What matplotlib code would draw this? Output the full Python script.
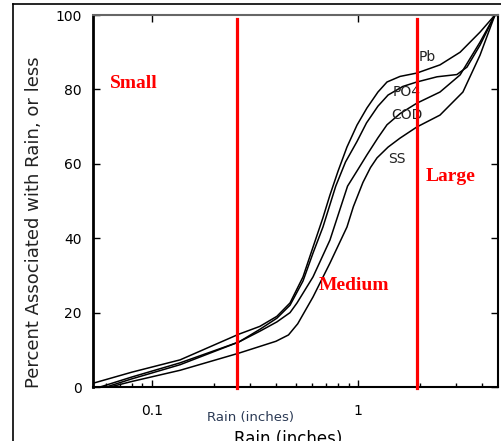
import matplotlib
matplotlib.use("Agg")
import matplotlib.pyplot as plt
from matplotlib.lines import Line2D
from matplotlib.ticker import LogLocator, NullFormatter, FixedLocator, FixedFormatter

# values (rain in inches, percent associated)
pb_rain = [0.0517, 0.08, 0.137, 0.264, 0.334, 0.404, 0.468, 0.541, 0.605, 0.676,
           0.73, 0.80, 0.884, 0.989, 1.105, 1.25, 1.383, 1.6, 1.93, 2.50, 3.13, 3.91, 4.62]
pb_pct = [1.0, 4.0, 7.3, 14.2, 16.3, 19.0, 22.6, 29.6, 37.6, 45.5,
          51.5, 58.0, 64.5, 70.4, 75.0, 79.3, 82.0, 83.5, 84.4, 86.6, 90.0, 95.4, 100.0]

po4_rain = [0.056, 0.08, 0.137, 0.264, 0.334, 0.404, 0.468, 0.541, 0.605, 0.676,
            0.78, 0.87, 0.989, 1.1, 1.25, 1.4, 1.65, 1.93, 2.42, 3.02, 3.38, 3.91, 4.62]
po4_pct = [0.0, 2.7, 6.5, 12.1, 15.5, 18.5, 22.0, 28.5, 36.0, 43.0,
           54.0, 60.5, 66.0, 71.0, 75.5, 78.5, 80.8, 82.0, 83.4, 84.0, 86.0, 91.9, 100.0]

cod_rain = [0.06, 0.08, 0.137, 0.264, 0.334, 0.404, 0.468, 0.506, 0.605, 0.731,
            0.89, 1.0, 1.105, 1.25, 1.383, 1.6, 1.93, 2.50, 3.13, 3.91, 4.62]
cod_pct = [0.0, 2.2, 6.0, 12.1, 15.0, 17.5, 20.0, 22.6, 29.6, 39.5,
           54.0, 58.5, 62.4, 67.0, 70.5, 73.5, 76.3, 79.3, 83.9, 92.7, 100.0]

ss_rain = [0.0625, 0.08, 0.137, 0.264, 0.40, 0.46, 0.51, 0.605, 0.731, 0.884, 0.95,
           1.057, 1.15, 1.237, 1.4, 1.599, 1.93, 2.50, 3.23, 3.91, 4.62]
ss_pct = [0.0, 1.5, 4.5, 9.1, 12.3, 14.0, 17.0, 24.2, 33.3, 43.0, 48.5,
          55.0, 59.0, 61.6, 64.5, 66.9, 69.9, 73.1, 79.3, 89.2, 100.0]

curve_names = ["Pb", "PO4", "COD", "SS"]
name_x = [1.98, 1.48, 1.45, 1.40]
name_y = [88.6, 79.2, 73.0, 61.3]

class_bounds = [0.26, 1.93]
class_names = ["Small", "Medium", "Large"]
class_x = [0.0625, 0.647, 2.14]
class_y = [81.7, 27.2, 56.7]

fig = plt.figure(figsize=(5.02, 4.41), dpi=100)
ax = fig.add_axes([0.185, 0.1224, 0.807, 0.8435])

for xs, ys in [(pb_rain, pb_pct), (po4_rain, po4_pct), (cod_rain, cod_pct), (ss_rain, ss_pct)]:
    ax.plot(xs, ys, color="black", lw=1.1)

for name, x, y in zip(curve_names, name_x, name_y):
    ax.text(x, y, name, fontsize=10, color="#222222", va="center", ha="left")

for b in class_bounds:
    ax.plot([b, b], [-0.3, 98.9], color="#ff0000", lw=2.3, clip_on=False, zorder=5)

for name, x, y in zip(class_names, class_x, class_y):
    ax.text(x, y, name, fontsize=14, fontweight="bold", family="Liberation Serif",
            color="#ff0000", va="center", ha="left")

ax.set_xscale("log")
ax.set_xlim(0.0517, 4.78)
ax.set_ylim(0, 100)

ax.xaxis.set_major_locator(FixedLocator([0.1, 1]))
ax.xaxis.set_major_formatter(FixedFormatter(["0.1", "1"]))
ax.xaxis.set_minor_locator(LogLocator(base=10, subs=range(2, 10)))
ax.xaxis.set_minor_formatter(NullFormatter())
ax.set_yticks([0, 20, 40, 60, 80, 100])

ax.tick_params(axis="both", which="major", direction="in", length=5, width=1,
               top=True, right=True, labelsize=10, colors="black")
ax.tick_params(axis="x", which="major", pad=12)
ax.tick_params(axis="y", which="major", pad=8)
ax.tick_params(axis="x", which="minor", direction="in", length=3, width=1, top=False)

ax.spines["left"].set_linewidth(2)
ax.spines["bottom"].set_linewidth(1.5)
ax.spines["right"].set_linewidth(1.5)
ax.spines["top"].set_linewidth(1.5)
ax.spines["top"].set_color("#666666")

fig.text(0.068, 0.497, "Percent Associated with Rain, or less", rotation=90,
         fontsize=13, color="#222222", ha="center", va="center")
fig.text(251 / 502, 1 - 417 / 441, "Rain (inches)", fontsize=9.5,
         color="#2b3a55", ha="center", va="center")
# scan leftover: second axis title, cut by the lower edge as in the source
fig.text(288 / 502, 1 - 430 / 441, "Rain (inches)", fontsize=12,
         color="black", ha="center", va="top")

# frame of the pasted scan
fig.add_artist(Line2D([13 / 502, 13 / 502], [0, 1 - 4 / 441], color="black", lw=1.2))
fig.add_artist(Line2D([13 / 502, 1], [1 - 4 / 441, 1 - 4 / 441], color="black", lw=1.2))

fig.savefig("out.png", dpi=100)
